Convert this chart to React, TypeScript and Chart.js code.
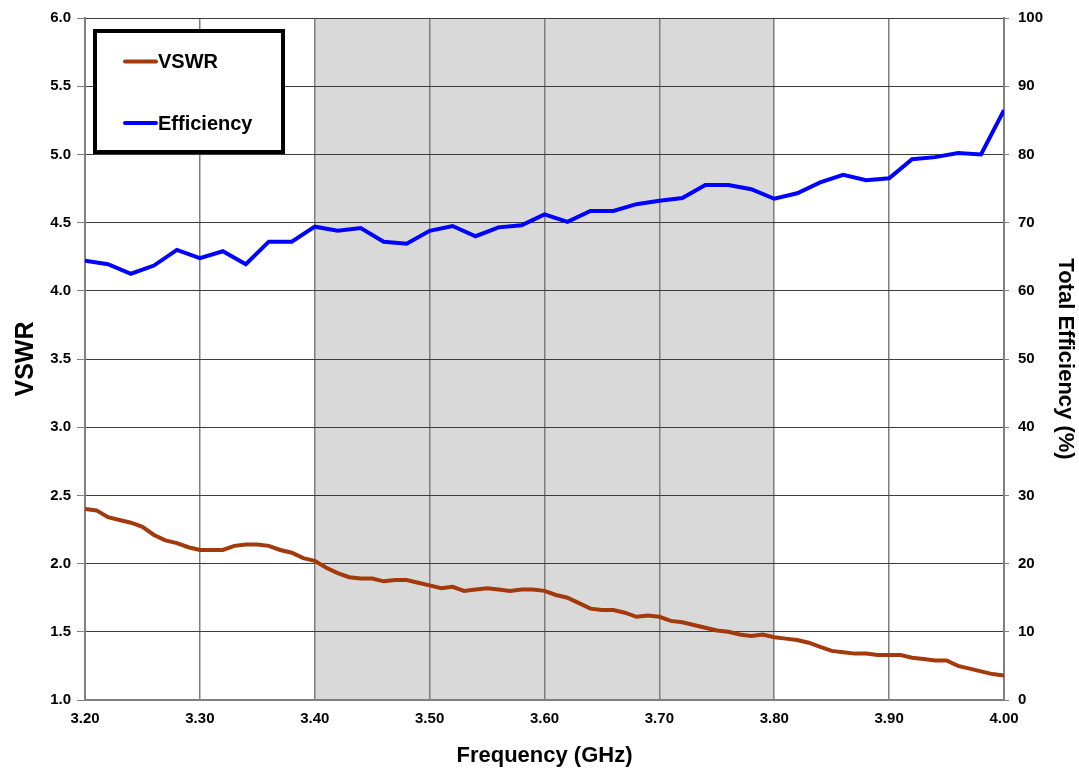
import { useEffect, useRef } from "react";
import { Chart, registerables } from "chart.js";

Chart.register(...registerables);

const vswrFreqs = [
  3.2, 3.21, 3.22, 3.23, 3.24, 3.25, 3.26, 3.27, 3.28, 3.29,
  3.3, 3.31, 3.32, 3.33, 3.34, 3.35, 3.36, 3.37, 3.38, 3.39,
  3.4, 3.41, 3.42, 3.43, 3.44, 3.45, 3.46, 3.47, 3.48, 3.49,
  3.5, 3.51, 3.52, 3.53, 3.54, 3.55, 3.56, 3.57, 3.58, 3.59,
  3.6, 3.61, 3.62, 3.63, 3.64, 3.65, 3.66, 3.67, 3.68, 3.69,
  3.7, 3.71, 3.72, 3.73, 3.74, 3.75, 3.76, 3.77, 3.78, 3.79,
  3.8, 3.81, 3.82, 3.83, 3.84, 3.85, 3.86, 3.87, 3.88, 3.89,
  3.9, 3.91, 3.92, 3.93, 3.94, 3.95, 3.96, 3.97, 3.98, 3.99,
  4.0,
];

const vswrValues = [
  2.40, 2.39, 2.34, 2.32, 2.30, 2.27, 2.21, 2.17, 2.15, 2.12,
  2.10, 2.10, 2.10, 2.13, 2.14, 2.14, 2.13, 2.10, 2.08, 2.04,
  2.02, 1.97, 1.93, 1.90, 1.89, 1.89, 1.87, 1.88, 1.88, 1.86,
  1.84, 1.82, 1.83, 1.80, 1.81, 1.82, 1.81, 1.80, 1.81, 1.81,
  1.80, 1.77, 1.75, 1.71, 1.67, 1.66, 1.66, 1.64, 1.61, 1.62,
  1.61, 1.58, 1.57, 1.55, 1.53, 1.51, 1.50, 1.48, 1.47, 1.48,
  1.46, 1.45, 1.44, 1.42, 1.39, 1.36, 1.35, 1.34, 1.34, 1.33,
  1.33, 1.33, 1.31, 1.30, 1.29, 1.29, 1.25, 1.23, 1.21, 1.19,
  1.18,
];

const effFreqs = [
  3.2, 3.22, 3.24, 3.26, 3.28, 3.3, 3.32, 3.34, 3.36, 3.38,
  3.4, 3.42, 3.44, 3.46, 3.48, 3.5, 3.52, 3.54, 3.56, 3.58,
  3.6, 3.62, 3.64, 3.66, 3.68, 3.7, 3.72, 3.74, 3.76, 3.78,
  3.8, 3.82, 3.84, 3.86, 3.88, 3.9, 3.92, 3.94, 3.96, 3.98,
  4.0,
];

const effValues = [
  64.4, 63.9, 62.5, 63.7, 66.0, 64.8, 65.8, 63.9, 67.2, 67.2,
  69.4, 68.8, 69.2, 67.2, 66.9, 68.8, 69.5, 68.0, 69.3, 69.6,
  71.2, 70.1, 71.7, 71.7, 72.7, 73.2, 73.6, 75.5, 75.5, 74.9,
  73.5, 74.3, 75.9, 77.0, 76.2, 76.5, 79.3, 79.6, 80.2, 80.0,
  86.5,
];

const freqTicks = [3.2, 3.3, 3.4, 3.5, 3.6, 3.7, 3.8, 3.9, 4.0];
const bandRange = [3.4, 3.8];
const seriesLabels = ["VSWR", "Efficiency"];
const seriesColors = ["#a33a0c", "#0000ff"];

const FONT = '"Liberation Sans", Arial, Helvetica, sans-serif';

const bandPlugin = {
  id: "bandShade",
  beforeDraw(chart: any) {
    const { ctx, chartArea, scales } = chart;
    const x0 = scales.x.getPixelForValue(bandRange[0]);
    const x1 = scales.x.getPixelForValue(bandRange[1]);
    ctx.save();
    ctx.fillStyle = "#d9d9d9";
    ctx.fillRect(x0, chartArea.top, x1 - x0, chartArea.bottom - chartArea.top);
    ctx.restore();
  },
};

const legendPlugin = {
  id: "boxLegend",
  afterDraw(chart: any) {
    const ctx = chart.ctx;
    ctx.save();
    ctx.fillStyle = "#ffffff";
    ctx.fillRect(95, 31, 188, 121);
    ctx.lineWidth = 4;
    ctx.strokeStyle = "#000000";
    ctx.strokeRect(95, 31, 188, 121);
    const rows = [61.5, 123];
    chart.data.datasets.forEach((ds: any, i: number) => {
      const y = rows[i];
      ctx.strokeStyle = ds.borderColor;
      ctx.lineWidth = 4;
      ctx.lineCap = "round";
      ctx.beginPath();
      ctx.moveTo(125, y);
      ctx.lineTo(156, y);
      ctx.stroke();
      ctx.fillStyle = "#000000";
      ctx.font = `bold 20px ${FONT}`;
      ctx.textBaseline = "middle";
      ctx.textAlign = "left";
      ctx.fillText(ds.label, 158, y + 1);
    });
    ctx.restore();
  },
};

export default function App() {
  const canvasRef = useRef<HTMLCanvasElement | null>(null);

  useEffect(() => {
    if (!canvasRef.current) return;
    const tickFont = { family: FONT, size: 15, weight: "bold" as const };
    const titleFont = { family: FONT, size: 22, weight: "bold" as const };
    const vswrTitleFont = { family: FONT, size: 25, weight: "bold" as const };

    const chart = new Chart(canvasRef.current, {
      type: "line",
      data: {
        datasets: [
          {
            label: seriesLabels[0],
            data: vswrFreqs.map((f, i) => ({ x: f, y: vswrValues[i] })),
            borderColor: seriesColors[0],
            backgroundColor: seriesColors[0],
            borderWidth: 4,
            pointRadius: 0,
            tension: 0,
            yAxisID: "y",
          },
          {
            label: seriesLabels[1],
            data: effFreqs.map((f, i) => ({ x: f, y: effValues[i] })),
            borderColor: seriesColors[1],
            backgroundColor: seriesColors[1],
            borderWidth: 4,
            pointRadius: 0,
            tension: 0,
            yAxisID: "y1",
          },
        ],
      },
      options: {
        responsive: false,
        animation: false,
        layout: { padding: { top: 18, left: 0, right: 0, bottom: 0 } },
        plugins: {
          legend: { display: false },
          tooltip: { enabled: false },
        },
        scales: {
          x: {
            type: "linear",
            min: 3.2,
            max: 4.0,
            afterBuildTicks: (scale: any) => {
              scale.ticks = freqTicks.map((v) => ({ value: v }));
            },
            afterFit: (scale: any) => {
              scale.height = 71;
            },
            ticks: {
              font: tickFont,
              color: "#000",
              padding: 10,
              maxRotation: 0,
              autoSkip: false,
              callback: (v: any) => Number(v).toFixed(2),
            },
            grid: {
              color: "#7f7f7f",
              lineWidth: 1.5,
              drawTicks: false,
            },
            border: { display: true, color: "#808080", width: 2 },
            title: {
              display: true,
              text: "Frequency (GHz)",
              font: titleFont,
              color: "#000",
              padding: { top: 0, bottom: 2 },
            },
          },
          y: {
            type: "linear",
            position: "left",
            min: 1,
            max: 6,
            afterFit: (scale: any) => {
              scale.width = 85;
            },
            ticks: {
              stepSize: 0.5,
              font: tickFont,
              color: "#000",
              padding: 6,
              callback: (v: any) => Number(v).toFixed(1),
            },
            grid: {
              color: "#3c3c3c",
              lineWidth: 1,
              tickColor: "#808080",
              tickLength: 8,
            },
            border: { display: true, color: "#808080", width: 2 },
            title: {
              display: true,
              text: "VSWR",
              font: vswrTitleFont,
              color: "#000",
              padding: { top: 11, bottom: 0 },
            },
          },
          y1: {
            type: "linear",
            position: "right",
            min: 0,
            max: 100,
            afterFit: (scale: any) => {
              scale.width = 75;
            },
            ticks: {
              stepSize: 10,
              font: tickFont,
              color: "#000",
              padding: 9,
            },
            grid: {
              drawOnChartArea: false,
              tickColor: "#808080",
              tickLength: 5,
            },
            border: { display: true, color: "#808080", width: 2 },
            title: {
              display: true,
              text: "Total Efficiency (%)",
              font: titleFont,
              color: "#000",
              padding: { top: 1, bottom: 0 },
            },
          },
        },
      },
      plugins: [bandPlugin, legendPlugin],
    });

    return () => chart.destroy();
  }, []);

  return (
    <div style={{ position: "fixed", left: 0, top: 0, width: 1079, height: 771, background: "#fff" }}>
      <canvas ref={canvasRef} width={1079} height={771} style={{ display: "block" }} />
    </div>
  );
}
